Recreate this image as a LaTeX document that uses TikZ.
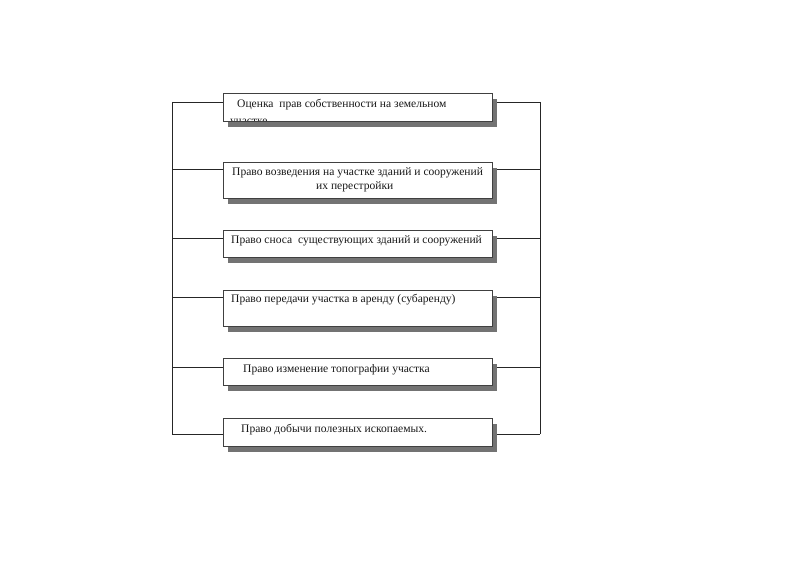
\documentclass[tikz,border=0pt]{standalone}
\usepackage{fontspec}
\setmainfont{Liberation Serif}
\usetikzlibrary{shadows}
\pgfdeclarelayer{background}
\pgfsetlayers{background,main}
\begin{document}
\begin{tikzpicture}[x=1bp,y=-1bp,
  box/.style={draw=black!75, fill=white, line width=0.9bp, minimum width=269bp,
    anchor=north west, inner sep=0pt, outer sep=0pt,
    drop shadow={shadow xshift=5bp, shadow yshift=-6bp, fill=black!55, opacity=1}},
  txt/.style={font=\fontsize{11.6}{14}\selectfont, anchor=base west, inner sep=0pt, text=black!90},
  wire/.style={draw=black!85, line width=0.9bp}]
\useasboundingbox (0,0) rectangle (800,565);

\node[box, minimum height=28bp] (b1) at (223,93) {};
\node[box, minimum height=36bp] (b2) at (223,162) {};
\node[box, minimum height=27bp] (b3) at (223,230) {};
\node[box, minimum height=36bp] (b4) at (223,290) {};
\node[box, minimum height=27bp] (b5) at (223,358) {};
\node[box, minimum height=28bp] (b6) at (223,418) {};

\begin{scope}
  \clip (b1.north west) rectangle (b1.south east);
  \node[txt] (t1) at (237,107.5) {Оценка\ \ прав собственности на земельном};
  \node[txt] (t1b) at (230,124.5) {участке};
\end{scope}
\node[txt] (t2) at (232,175.5) {Право возведения на участке зданий и сооружений};
\node[txt] (t2b) at (316,189.5) {их перестройки};
\node[txt] (t3) at (231,243.5) {Право сноса\ \ существующих зданий и сооружений};
\node[txt] (t4) at (231,302.5) {Право передачи участка в аренду (субаренду)};
\node[txt] (t5) at (243,372.5) {Право изменение топографии участка};
\node[txt] (t6) at (241,432.5) {Право добычи полезных ископаемых.};

\coordinate (L1) at (172,102); \coordinate (R1) at (540,102);
\coordinate (L2) at (172,169); \coordinate (R2) at (540,169);
\coordinate (L3) at (172,238); \coordinate (R3) at (540,238);
\coordinate (L4) at (172,297); \coordinate (R4) at (540,297);
\coordinate (L5) at (172,367); \coordinate (R5) at (540,367);
\coordinate (L6) at (172,434); \coordinate (R6) at (540,434);

\begin{pgfonlayer}{background}
  \draw[wire] (L1) -- (L6);
  \draw[wire] (R1) -- (R6);
  \foreach \i in {1,...,6}{
    \draw[wire] (L\i) -- (b\i.west |- L\i);
    \draw[wire] (R\i) -- (b\i.east |- R\i);
  }
\end{pgfonlayer}
\end{tikzpicture}
\end{document}
